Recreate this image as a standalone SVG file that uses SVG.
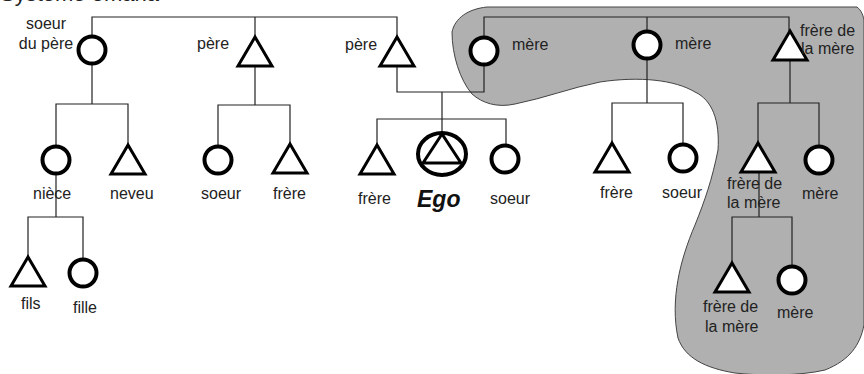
<svg xmlns="http://www.w3.org/2000/svg" xmlns:xlink="http://www.w3.org/1999/xlink" width="864" height="374" viewBox="0 0 864 374">
<style>
text{font-family:"Liberation Sans",Arial,sans-serif;font-size:16px;fill:#222}
.ego{font-weight:bold;font-style:italic;font-size:23px;fill:#111}
.c{fill:#fff;stroke:#000;stroke-width:4}
.t{fill:#fff;stroke:#000;stroke-width:3;stroke-linejoin:miter}
.l{fill:none;stroke:#222;stroke-width:1.2}
</style>
<defs>
<polygon id="tri" points="0,0 -17,29 17,29"/>
</defs>
<rect width="864" height="374" fill="#fff"/>
<text x="0" y="1" style="font-size:22px">Système omaha</text>
<path id="zone" d="M452,32 C455,18 468,9 487,7 L857,7 C861,10 864,16 864,22 L864,325 C860,345 850,360 825,370 C800,376 760,376 735,373 C705,368 685,358 678,338 C670,300 680,260 695,225 C705,200 712,180 718,150 C720,120 712,100 695,92 C675,80 640,76 600,82 C570,88 545,98 515,104 C497,108 482,103 472,94 C460,80 452,55 452,32 Z" fill="#b0b0b0" stroke="#444" stroke-width="1"/>
<g id="connectors" class="l">
<path d="M92,36 V17 H397 V37 M255,17 V37"/>
<path d="M92,65 V104 M56,145 V104 H128 V145"/>
<path d="M56,175 V217 M28,257 V217 H83 V258"/>
<path d="M255,66 V105 M218,145 V105 H290 V144"/>
<path d="M397,66 V92 H484 V66 M442,92 V132 M377,145 V119 H506 V144"/>
<path d="M484,36 V17 H789 V31 M647,17 V31"/>
<path d="M647,59 V103 M612,143 V103 H683 V143"/>
<path d="M790,60 V103 M758,143 V103 H819 V145"/>
<path d="M759,143 V217 M732,263 V217 H792 V265"/>
</g>
<g id="soeur-du-pere"><circle class="c" cx="92" cy="50" r="13.5"/><text x="46" y="29" text-anchor="middle">soeur</text><text x="46" y="49" text-anchor="middle">du père</text></g>
<g id="pere1"><use href="#tri" class="t" x="255" y="37"/><text x="197" y="49">père</text></g>
<g id="pere2"><use href="#tri" class="t" x="397" y="37"/><text x="345" y="50">père</text></g>
<g id="mere1"><circle class="c" cx="484" cy="51" r="13.5"/><text x="512" y="50">mère</text></g>
<g id="mere2"><circle class="c" cx="647" cy="45" r="13.5"/><text x="675" y="49">mère</text></g>
<g id="frere-mere1"><use href="#tri" class="t" x="790" y="31"/><text x="800" y="36">frère de</text><text x="801" y="54">la mère</text></g>
<g id="niece"><circle class="c" cx="56" cy="160" r="13.5"/><text x="33" y="199">nièce</text></g>
<g id="neveu"><use href="#tri" class="t" x="128" y="145"/><text x="110" y="199">neveu</text></g>
<g id="fils"><use href="#tri" class="t" x="28" y="257"/><text x="21" y="309">fils</text></g>
<g id="fille"><circle class="c" cx="83" cy="273" r="13.5"/><text x="73" y="313">fille</text></g>
<g id="soeur1"><circle class="c" cx="218" cy="160" r="13.5"/><text x="201" y="199">soeur</text></g>
<g id="frere1"><use href="#tri" class="t" x="290" y="144"/><text x="273" y="199">frère</text></g>
<g id="frere2"><use href="#tri" class="t" x="377" y="145"/><text x="358" y="204">frère</text></g>
<g id="ego"><ellipse class="c" cx="442" cy="154" rx="24" ry="21"/><polygon class="t" points="442,134 423,163 461,163"/><text class="ego" x="417" y="207">Ego</text></g>
<g id="soeur2"><circle class="c" cx="505" cy="159" r="13.5"/><text x="490" y="204">soeur</text></g>
<g id="frere3"><use href="#tri" class="t" x="612" y="143"/><text x="600" y="198">frère</text></g>
<g id="soeur3"><circle class="c" cx="683" cy="158" r="13.5"/><text x="662" y="198">soeur</text></g>
<g id="frere-mere2"><use href="#tri" class="t" x="758" y="143"/><text x="727" y="189">frère de</text><text x="727" y="208">la mère</text></g>
<g id="mere3"><circle class="c" cx="819" cy="160" r="13.5"/><text x="802" y="199">mère</text></g>
<g id="frere-mere3"><use href="#tri" class="t" x="732" y="263"/><text x="703" y="312">frère de</text><text x="705" y="332">la mère</text></g>
<g id="mere4"><circle class="c" cx="792" cy="280" r="13.5"/><text x="777" y="318">mère</text></g>
</svg>
